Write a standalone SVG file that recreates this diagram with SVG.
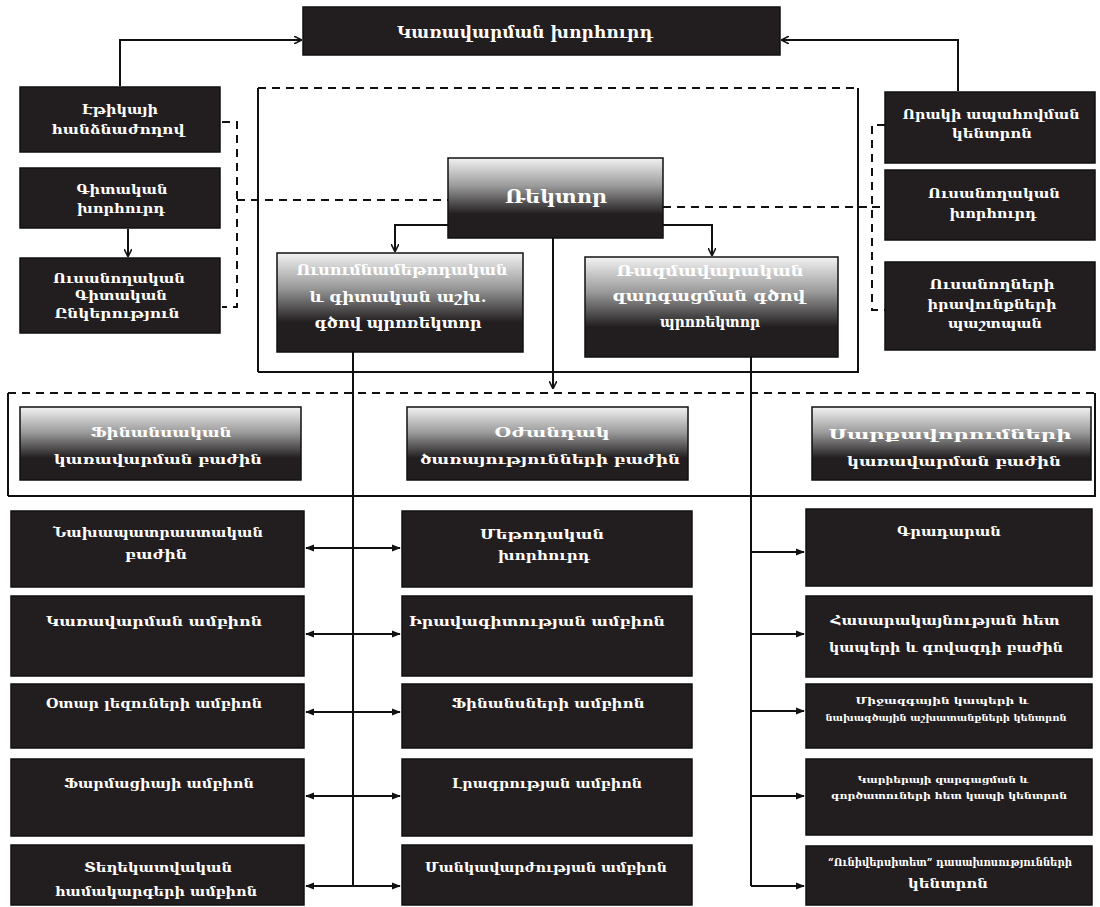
<svg xmlns="http://www.w3.org/2000/svg" width="1100" height="907" viewBox="0 0 1100 907">
<defs>
<style>
.box{fill:#221e1f;stroke:#111;stroke-width:1.5}
.gbox{fill:url(#g1);stroke:#111;stroke-width:1.5}
.t{font-family:"DejaVu Serif","DejaVu Sans",serif;font-weight:bold;font-size:13px;fill:#fff;text-anchor:middle}
.ts{font-size:10px}
.tn{font-size:11px}
.tm{font-size:14px}
.tl{font-size:16px}
.tx{font-size:19px}
.ln{fill:none;stroke:#111;stroke-width:2}
.dl{fill:none;stroke:#111;stroke-width:2;stroke-dasharray:8 6}
</style>
<linearGradient id="g1" x1="0" y1="0" x2="0" y2="1">
<stop offset="0" stop-color="#f2f2f2"/>
<stop offset="0.35" stop-color="#9a9a9a"/>
<stop offset="0.7" stop-color="#221e1f"/>
<stop offset="1" stop-color="#221e1f"/>
</linearGradient>
<marker id="ah" viewBox="0 0 10 10" refX="9" refY="5" markerWidth="8" markerHeight="8" orient="auto-start-reverse" markerUnits="userSpaceOnUse">
<path d="M0,0 L10,5 L0,10" fill="none" stroke="#111" stroke-width="2"/>
</marker>
<marker id="af" viewBox="0 0 10 10" refX="9" refY="5" markerWidth="9" markerHeight="9" orient="auto-start-reverse" markerUnits="userSpaceOnUse">
<path d="M0,1 L10,5 L0,9 Z" fill="#111"/>
</marker>
</defs>
<rect width="1100" height="907" fill="#fff"/>

<g id="connectors">
<path class="ln" d="M120,86 V40 H301" marker-end="url(#ah)"/>
<path class="ln" d="M958,91 V40 H782" marker-end="url(#ah)"/>
<path class="ln" d="M128,229 V256" marker-end="url(#ah)"/>
<path class="dl" d="M222,122 H237 V307 H222"/>
<path class="dl" d="M237,200 H448"/>
<path class="dl" d="M663,207 H872"/>
<path class="dl" d="M885,125 H872 V310 H885"/>
<path class="dl" d="M872,207 H885"/>
<path class="ln" d="M258,372 V88"/>
<path class="dl" d="M258,88 H858"/>
<path class="ln" d="M858,88 V372 H258"/>
<path class="ln" d="M448,225 H395 V251" marker-end="url(#ah)"/>
<path class="ln" d="M663,225 H712 V255" marker-end="url(#ah)"/>
<path class="ln" d="M553,238 V388" marker-end="url(#ah)"/>
<path class="ln" d="M8,496 V393"/>
<path class="dl" d="M8,393 H1095"/>
<path class="ln" d="M1095,393 V496 H8"/>
<path class="ln" d="M353,352 V886"/>
<path class="ln" d="M306,548 H400" marker-start="url(#af)" marker-end="url(#af)"/>
<path class="ln" d="M306,634 H400" marker-start="url(#af)" marker-end="url(#af)"/>
<path class="ln" d="M306,712 H400" marker-start="url(#af)" marker-end="url(#af)"/>
<path class="ln" d="M306,796 H400" marker-start="url(#af)" marker-end="url(#af)"/>
<path class="ln" d="M306,886 H400" marker-start="url(#af)" marker-end="url(#af)"/>
<path class="ln" d="M751,357 V886"/>
<path class="ln" d="M751,552 H804" marker-end="url(#af)"/>
<path class="ln" d="M751,634 H804" marker-end="url(#af)"/>
<path class="ln" d="M751,711 H804" marker-end="url(#af)"/>
<path class="ln" d="M751,796 H804" marker-end="url(#af)"/>
<path class="ln" d="M751,886 H804" marker-end="url(#af)"/>
</g>

<g id="board"><rect class="box" x="303" y="7" width="477" height="48"/><text class="t tl" x="525" y="38" textLength="256" lengthAdjust="spacingAndGlyphs">Կառավարման խորհուրդ</text></g>

<g id="ethics"><rect class="box" x="20" y="87" width="200" height="65"/><text class="t" x="120" y="114" textLength="76" lengthAdjust="spacingAndGlyphs">Էթիկայի</text><text class="t" x="118" y="134" textLength="133" lengthAdjust="spacingAndGlyphs">հանձնաժողով</text></g>
<g id="sci-council"><rect class="box" x="20" y="168" width="200" height="60"/><text class="t" x="122" y="194" textLength="91" lengthAdjust="spacingAndGlyphs">Գիտական</text><text class="t" x="121" y="213" textLength="88" lengthAdjust="spacingAndGlyphs">խորհուրդ</text></g>
<g id="student-sci"><rect class="box" x="20" y="258" width="200" height="75"/><text class="t" x="119" y="283" textLength="132" lengthAdjust="spacingAndGlyphs">Ուսանողական</text><text class="t" x="121" y="300" textLength="92" lengthAdjust="spacingAndGlyphs">Գիտական</text><text class="t" x="117" y="318" textLength="125" lengthAdjust="spacingAndGlyphs">Ընկերություն</text></g>

<g id="quality"><rect class="box" x="885" y="92" width="210" height="71"/><text class="t" x="991" y="119" textLength="177" lengthAdjust="spacingAndGlyphs">Որակի ապահովման</text><text class="t" x="992" y="138" textLength="80" lengthAdjust="spacingAndGlyphs">կենտրոն</text></g>
<g id="student-council"><rect class="box" x="885" y="170" width="210" height="70"/><text class="t" x="994" y="198" textLength="132" lengthAdjust="spacingAndGlyphs">Ուսանողական</text><text class="t" x="993" y="218" textLength="87" lengthAdjust="spacingAndGlyphs">խորհուրդ</text></g>
<g id="ombudsman"><rect class="box" x="885" y="262" width="210" height="88"/><text class="t" x="992" y="289" textLength="125" lengthAdjust="spacingAndGlyphs">Ուսանողների</text><text class="t" x="992" y="309" textLength="129" lengthAdjust="spacingAndGlyphs">իրավունքների</text><text class="t" x="995" y="328" textLength="94" lengthAdjust="spacingAndGlyphs">պաշտպան</text></g>

<g id="rector"><rect class="gbox" x="448" y="158" width="215" height="80"/><text class="t tx" x="556" y="203" textLength="102" lengthAdjust="spacingAndGlyphs">Ռեկտոր</text></g>
<g id="vr-academic"><rect class="gbox" x="277" y="253" width="246" height="99"/><text class="t tm" x="402" y="275" textLength="211" lengthAdjust="spacingAndGlyphs">Ուսումնամեթոդական</text><text class="t tm" x="398" y="302" textLength="177" lengthAdjust="spacingAndGlyphs">և գիտական աշխ.</text><text class="t tm" x="398" y="328" textLength="167" lengthAdjust="spacingAndGlyphs">գծով պրոռեկտոր</text></g>
<g id="vr-strategy"><rect class="gbox" x="585" y="257" width="253" height="100"/><text class="t tm" x="710" y="276" textLength="187" lengthAdjust="spacingAndGlyphs">Ռազմավարական</text><text class="t tm" x="709" y="301" textLength="193" lengthAdjust="spacingAndGlyphs">զարգացման գծով</text><text class="t tm" x="710" y="327" textLength="100" lengthAdjust="spacingAndGlyphs">պրոռեկտոր</text></g>

<g id="dept-finance"><rect class="gbox" x="20" y="407" width="281" height="73"/><text class="t" x="161" y="437" textLength="141" lengthAdjust="spacingAndGlyphs">Ֆինանսական</text><text class="t" x="158" y="464" textLength="208" lengthAdjust="spacingAndGlyphs">կառավարման բաժին</text></g>
<g id="dept-support"><rect class="gbox" x="407" y="407" width="281" height="73"/><text class="t" x="552" y="437" textLength="115" lengthAdjust="spacingAndGlyphs">Օժանդակ</text><text class="t" x="550" y="464" textLength="260" lengthAdjust="spacingAndGlyphs">ծառայությունների բաժին</text></g>
<g id="dept-equipment"><rect class="gbox" x="812" y="407" width="279" height="73"/><text class="t" x="950" y="439" textLength="243" lengthAdjust="spacingAndGlyphs">Սարքավորումների</text><text class="t" x="954" y="466" textLength="214" lengthAdjust="spacingAndGlyphs">կառավարման բաժին</text></g>

<g id="l1"><rect class="box" x="11" y="511" width="293" height="76"/><text class="t" x="158" y="537" textLength="210" lengthAdjust="spacingAndGlyphs">Նախապատրաստական</text><text class="t" x="156" y="559" textLength="62" lengthAdjust="spacingAndGlyphs">բաժին</text></g>
<g id="l2"><rect class="box" x="11" y="596" width="293" height="80"/><text class="t" x="154" y="626" textLength="216" lengthAdjust="spacingAndGlyphs">Կառավարման ամբիոն</text></g>
<g id="l3"><rect class="box" x="11" y="684" width="293" height="64"/><text class="t" x="154" y="708" textLength="216" lengthAdjust="spacingAndGlyphs">Օտար լեզուների ամբիոն</text></g>
<g id="l4"><rect class="box" x="11" y="759" width="293" height="77"/><text class="t" x="159" y="788" textLength="190" lengthAdjust="spacingAndGlyphs">Ֆարմացիայի ամբիոն</text></g>
<g id="l5"><rect class="box" x="11" y="845" width="293" height="60"/><text class="t" x="158" y="872" textLength="148" lengthAdjust="spacingAndGlyphs">Տեղեկատվական</text><text class="t" x="156" y="896" textLength="202" lengthAdjust="spacingAndGlyphs">համակարգերի ամբիոն</text></g>

<g id="m1"><rect class="box" x="402" y="511" width="290" height="76"/><text class="t" x="542" y="539" textLength="124" lengthAdjust="spacingAndGlyphs">Մեթոդական</text><text class="t" x="544" y="560" textLength="92" lengthAdjust="spacingAndGlyphs">խորհուրդ</text></g>
<g id="m2"><rect class="box" x="402" y="596" width="290" height="80"/><text class="t" x="537" y="626" textLength="256" lengthAdjust="spacingAndGlyphs">Իրավագիտության ամբիոն</text></g>
<g id="m3"><rect class="box" x="402" y="684" width="290" height="64"/><text class="t" x="548" y="708" textLength="193" lengthAdjust="spacingAndGlyphs">Ֆինանսների ամբիոն</text></g>
<g id="m4"><rect class="box" x="402" y="759" width="290" height="77"/><text class="t" x="547" y="788" textLength="190" lengthAdjust="spacingAndGlyphs">Լրագրության ամբիոն</text></g>
<g id="m5"><rect class="box" x="402" y="845" width="290" height="60"/><text class="t" x="546" y="872" textLength="242" lengthAdjust="spacingAndGlyphs">Մանկավարժության ամբիոն</text></g>

<g id="r1"><rect class="box" x="806" y="509" width="286" height="77"/><text class="t" x="949" y="536" textLength="104" lengthAdjust="spacingAndGlyphs">Գրադարան</text></g>
<g id="r2"><rect class="box" x="806" y="596" width="286" height="81"/><text class="t" x="945" y="625" textLength="229" lengthAdjust="spacingAndGlyphs">Հասարակայնության հետ</text><text class="t" x="946" y="652" textLength="234" lengthAdjust="spacingAndGlyphs">կապերի և գովազդի բաժին</text></g>
<g id="r3"><rect class="box" x="806" y="684" width="286" height="64"/><text class="t ts" x="942" y="704" textLength="173" lengthAdjust="spacingAndGlyphs">Միջազգային կապերի և</text><text class="t ts" x="946" y="721" textLength="241" lengthAdjust="spacingAndGlyphs">նախագծային աշխատանքների կենտրոն</text></g>
<g id="r4"><rect class="box" x="806" y="759" width="286" height="76"/><text class="t ts" x="943" y="783" textLength="171" lengthAdjust="spacingAndGlyphs">Կարիերայի զարգացման և</text><text class="t ts" x="949" y="799" textLength="236" lengthAdjust="spacingAndGlyphs">գործատուների հետ կապի կենտրոն</text></g>
<g id="r5"><rect class="box" x="806" y="846" width="286" height="59"/><text class="t tn" x="950" y="866" textLength="244" lengthAdjust="spacingAndGlyphs">“Ունիվերսիտետ” դասախոսությունների</text><text class="t" x="948" y="888" textLength="80" lengthAdjust="spacingAndGlyphs">կենտրոն</text></g>
</svg>
